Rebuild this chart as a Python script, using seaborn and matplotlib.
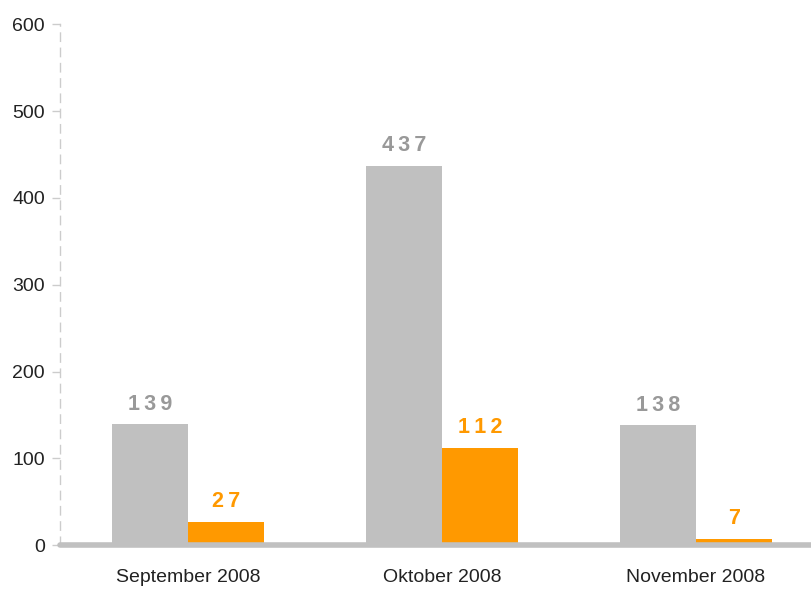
import pandas as pd
import matplotlib.pyplot as plt
import seaborn as sns

# data
months = ["September 2008", "Oktober 2008", "November 2008"]
gray_values = [139, 437, 138]
orange_values = [27, 112, 7]
series = ["Serie A", "Serie B"]
colors = ["#c0c0c0", "#ff9900"]
label_colors = ["#999999", "#ff9900"]

df = pd.DataFrame({
    "month": months * 2,
    "value": gray_values + orange_values,
    "series": [series[0]] * len(months) + [series[1]] * len(months),
})

sns.set_style("white")
plt.rcParams["font.family"] = ["Liberation Sans", "DejaVu Sans"]

fig = plt.figure(figsize=(8.12, 5.90), dpi=100)
ax = fig.add_axes([0.074, 0.076, 0.926, 0.883])

sns.barplot(data=df, x="month", y="value", hue="series", palette=colors,
            width=0.6, saturation=1, legend=False, linewidth=0, ax=ax)

# value labels above bars, letter-spaced like the original
spaced = lambda v: "\u2009".join(str(int(round(v))))
for container, lc in zip(ax.containers, label_colors):
    ax.bar_label(container, labels=[spaced(b.get_height()) for b in container],
                 padding=7, color=lc, fontsize=15.5, fontweight="bold")

ax.set_ylim(0, 600)
ax.set_xlim(-0.504, 2.457)
ax.set_yticks(range(0, 601, 100))
ax.set_xlabel("")
ax.set_ylabel("")

ax.spines["top"].set_visible(False)
ax.spines["right"].set_visible(False)
ax.spines["left"].set_color("#cccccc")
ax.spines["left"].set_linestyle((0, (6, 5)))
ax.spines["left"].set_linewidth(1)
ax.spines["bottom"].set_color("#c0c0c0")
ax.spines["bottom"].set_linewidth(4)
ax.spines["bottom"].set_capstyle("round")

ax.tick_params(axis="y", left=True, length=6, width=1, color="#cccccc",
               labelsize=14, labelcolor="#222222", pad=5)
ax.tick_params(axis="x", bottom=False, labelsize=14, labelcolor="#222222",
               pad=14)

fig.savefig("out.png", dpi=100)
